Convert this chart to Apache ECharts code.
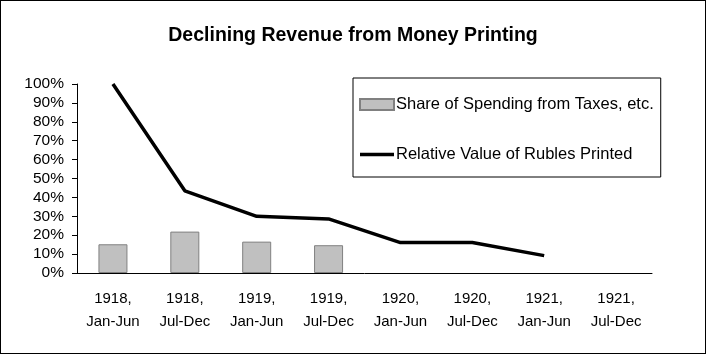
<!DOCTYPE html>
<html>
<head>
<meta charset="utf-8">
<script src="https://cdn.jsdelivr.net/npm/echarts@6/dist/echarts.min.js"></script>
<style>
  html, body { margin: 0; padding: 0; background: #fff; }
  #chart { width: 704px; height: 352px; border: 1px solid #000; }
</style>
</head>
<body>
<div id="chart"></div>
<script>
var categories = ["1918,\nJan-Jun", "1918,\nJul-Dec", "1919,\nJan-Jun", "1919,\nJul-Dec",
  "1920,\nJan-Jun", "1920,\nJul-Dec", "1921,\nJan-Jun", "1921,\nJul-Dec"];
var taxShare = [15.2, 21.9, 16.6, 14.7, null, null, null, null];
var rublesValue = [100, 43.5, 30, 28.6, 16.1, 16.1, 9.2, null];

var chart = echarts.init(document.getElementById("chart"));
var font = "Liberation Sans, Arial, sans-serif";

chart.setOption({
  animation: false,
  textStyle: { fontFamily: font },
  title: {
    text: "Declining Revenue from Money Printing",
    left: "center",
    top: 20,
    textStyle: { fontSize: 19.5, fontWeight: "bold", color: "#000", fontFamily: font }
  },
  legend: {
    orient: "vertical",
    left: 352,
    top: 77,
    padding: [18, 7, 14, 6],
    itemGap: 33,
    itemWidth: 34,
    itemHeight: 11,
    borderColor: "#000",
    borderWidth: 1,
    textStyle: { fontSize: 16.5, color: "#000", fontFamily: font, padding: [0, 0, 0, -3] },
    data: [
      { name: "Share of Spending from Taxes, etc.", icon: "rect" },
      { name: "Relative Value of Rubles Printed", icon: "path://M0,0H34V3.5H0Z" }
    ]
  },
  grid: { left: 76, right: 53, top: 83, bottom: 80 },
  xAxis: {
    type: "category",
    data: categories,
    axisLine: { lineStyle: { color: "#000", width: 1 } },
    axisTick: { length: 5, lineStyle: { color: "#000" } },
    axisLabel: { color: "#000", fontSize: 15, lineHeight: 23, margin: 14, fontFamily: font }
  },
  yAxis: {
    type: "value",
    min: 0,
    max: 100,
    interval: 10,
    splitLine: { show: false },
    axisLine: { show: true, lineStyle: { color: "#000", width: 1 } },
    axisTick: { show: true, length: 5, lineStyle: { color: "#000" } },
    axisLabel: { color: "#000", fontSize: 15.5, margin: 13, formatter: "{value}%", fontFamily: font }
  },
  series: [
    {
      name: "Share of Spending from Taxes, etc.",
      type: "bar",
      data: taxShare,
      barWidth: 29,
      itemStyle: { color: "#c0c0c0", borderColor: "#808080", borderWidth: 1 }
    },
    {
      name: "Relative Value of Rubles Printed",
      type: "line",
      data: rublesValue,
      symbol: "none",
      lineStyle: { color: "#000", width: 3.5 },
      itemStyle: { color: "#000" }
    }
  ]
});
</script>
</body>
</html>
